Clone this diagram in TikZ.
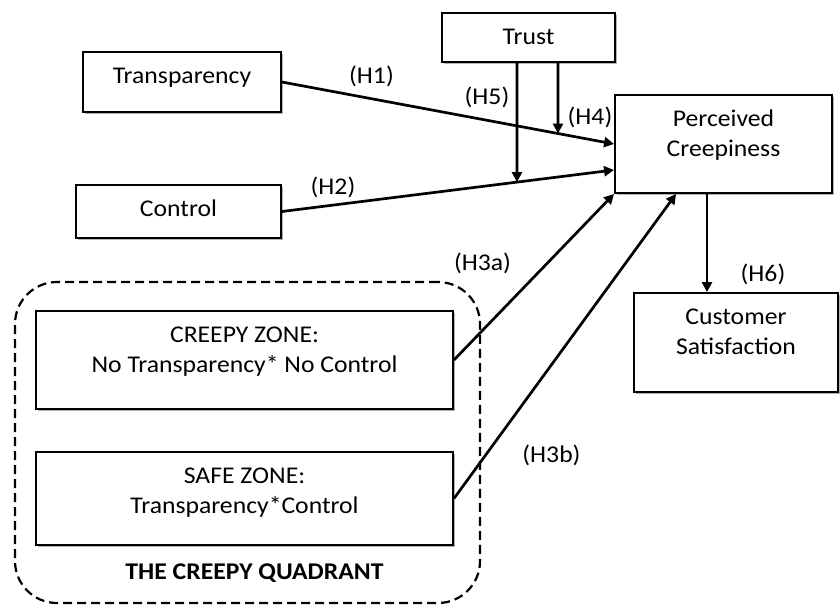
\documentclass[tikz,border=0pt]{standalone}
\usepackage{fontspec}
\setmainfont{Carlito}[FakeStretch=1.07]
\usetikzlibrary{arrows.meta,shadows,calc}

% text block anchored at the top of its box: first baseline 31pt below the top edge
\newcommand{\boxlines}[3]{\parbox[c][#2][t]{#1}{\centering\rule{0pt}{31pt}#3\par}}

\begin{document}
\begin{tikzpicture}[x=1pt,y=-1pt,
  every node/.style={font=\fontsize{24}{30}\selectfont},
  boxnode/.style={draw=black, line width=1.9pt, fill=white, inner sep=0pt,
    drop shadow={shadow xshift=2pt, shadow yshift=-2pt, opacity=0.3, fill=black}},
  arr/.style={line width=2.7pt, -{Triangle[length=10pt,width=10pt]}},
  hyp/.style={inner sep=0pt},
]
\useasboundingbox (0,0) rectangle (840,605);

% the creepy quadrant frame
\node[draw=black, line width=2.2pt, dash pattern=on 9pt off 5pt, rounded corners=42pt,
      minimum width=465pt, minimum height=321pt, inner sep=0pt] (quad) at (247.5,442.5) {};

% construct boxes
\node[boxnode] (tr) at (182,82) {\boxlines{198pt}{60pt}{Transparency}};
\node[boxnode] (ct) at (178.5,211.5) {\boxlines{205pt}{53pt}{Control}};
\node[boxnode] (trust) at (528.5,37.5) {\boxlines{173pt}{49pt}{Trust}};
\node[boxnode] (pc) at (723.5,144) {\boxlines{217pt}{98pt}{Perceived\\Creepiness}};
\node[boxnode] (cs) at (736,342.5) {\boxlines{204pt}{99pt}{Customer\\Satisfaction}};
\node[boxnode] (cz) at (244.5,360) {\boxlines{417pt}{98pt}{CREEPY ZONE:\\No Transparency* No Control}};
\node[boxnode] (sz) at (244.5,498.5) {\boxlines{417pt}{93pt}{SAFE ZONE:\\Transparency*Control}};

% quadrant caption
\node[font=\fontsize{24}{30}\selectfont\bfseries] (quadlabel) at (254.5,573.5) {THE CREEPY QUADRANT};

% direct effects
\coordinate (pcH2) at ($(pc.west)+(0,26)$);
\coordinate (pcH3b) at ($(pc.south west)+(62,0)$);
\coordinate (pcH6) at ($(pc.south)+(-16.5,0)$);
\coordinate (csH6) at (pcH6 |- cs.north);
\draw[arr] (tr.east) -- (pc.west);
\draw[arr] (ct.east) -- (pcH2);
\draw[arr] (cz.east) -- (pc.south west);
\draw[arr] (sz.east) -- (pcH3b);
\draw[arr] (pcH6) -- (csH6);

% moderation by trust
\coordinate (t4) at ($(trust.south)+(29.5,0)$);
\coordinate (t4d) at ($(t4)+(0,200)$);
\coordinate (t5) at ($(trust.south)+(-11.5,0)$);
\coordinate (t5d) at ($(t5)+(0,200)$);
\draw[arr] (t4) -- (intersection of t4--t4d and tr.east--pc.west);
\draw[arr] (t5) -- (intersection of t5--t5d and ct.east--pcH2);

% hypothesis labels
\node[hyp] (h1) at (371.5,76.5) {(H1)};
\node[hyp] (h2) at (333,187.5) {(H2)};
\node[hyp] (h5) at (487,97) {(H5)};
\node[hyp] (h4) at (590,117) {(H4)};
\node[hyp] (h3a) at (482.5,263.5) {(H3a)};
\node[hyp] (h3b) at (551.5,455) {(H3b)};
\node[hyp] (h6) at (763,274) {(H6)};
\end{tikzpicture}
\end{document}
